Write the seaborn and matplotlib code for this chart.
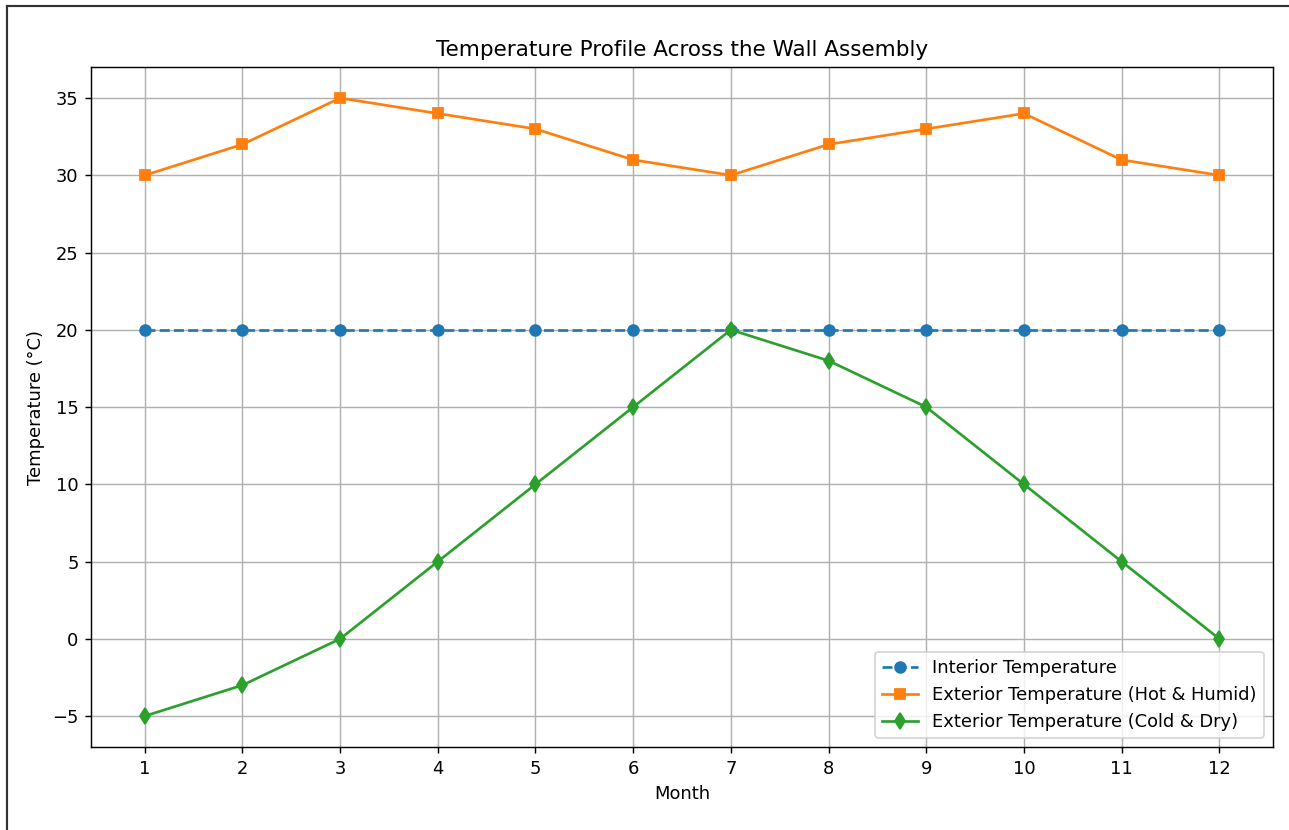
import matplotlib
matplotlib.use("Agg")
import matplotlib.pyplot as plt
from matplotlib.lines import Line2D
import seaborn as sns
import pandas as pd

months = [1, 2, 3, 4, 5, 6, 7, 8, 9, 10, 11, 12]
interior = [20, 20, 20, 20, 20, 20, 20, 20, 20, 20, 20, 20]
hot_humid = [30, 32, 35, 34, 33, 31, 30, 32, 33, 34, 31, 30]
cold_dry = [-5, -3, 0, 5, 10, 15, 20, 18, 15, 10, 5, 0]

series_names = [
    "Interior Temperature",
    "Exterior Temperature (Hot & Humid)",
    "Exterior Temperature (Cold & Dry)",
]

df = pd.DataFrame({"Month": months, series_names[0]: interior,
                   series_names[1]: hot_humid, series_names[2]: cold_dry})

fig = plt.figure(figsize=(10, 6.44), dpi=128.9)
ax = fig.add_axes([0.0706, 0.100, 0.917, 0.819])

styles = [("--", "o", "#1f77b4"), ("-", "s", "#ff7f0e"), ("-", "d", "#2ca02c")]
for name, (ls, mk, col) in zip(series_names, styles):
    sns.lineplot(data=df, x="Month", y=name, ax=ax, color=col, linestyle=ls,
                 marker=mk, markersize=6, markeredgewidth=1.0,
                 markeredgecolor=col, linewidth=1.5, label=name)

ax.set_xticks(months)
ax.set_title("Temperature Profile Across the Wall Assembly")
ax.set_xlabel("Month")
ax.set_ylabel("Temperature (°C)")
ax.grid(True)
ax.legend(loc="lower right")

# frame edges along the top and left of the figure
fig.add_artist(Line2D([0.0054, 0.0054], [0.0, 0.993], transform=fig.transFigure,
                      color="#333333", linewidth=1.2))
fig.add_artist(Line2D([0.0054, 1.0], [0.993, 0.993], transform=fig.transFigure,
                      color="#333333", linewidth=1.2))

fig.savefig("out.png", dpi=128.9)
